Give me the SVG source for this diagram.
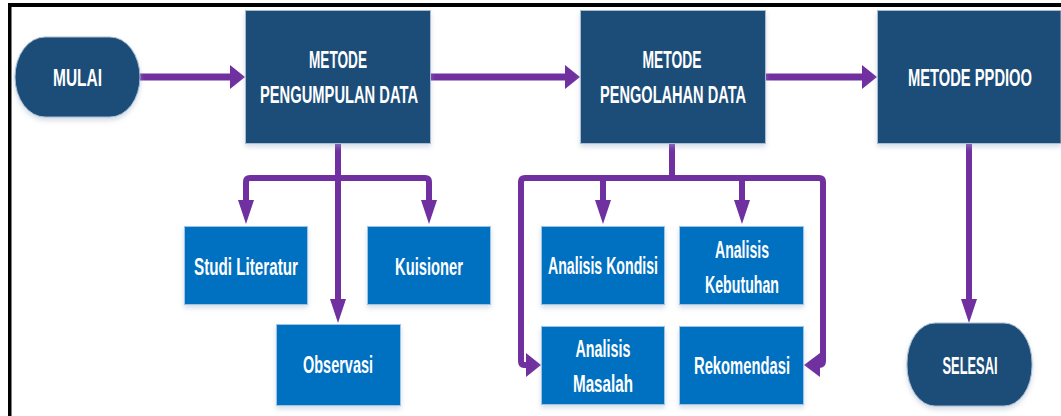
<svg xmlns="http://www.w3.org/2000/svg" width="1061" height="416" viewBox="0 0 1061 416">
  <defs>
    <filter id="soft" x="-10%" y="-10%" width="120%" height="130%">
      <feDropShadow dx="0" dy="3" stdDeviation="2.5" flood-color="#9FB3C8" flood-opacity="0.45"/>
    </filter>
    <!-- arrowheads, tip at origin -->
    <path id="headDown" d="M-8,-24 L8,-24 L0,0 Z"/>
    <path id="headRight" d="M-15,-12 L0,0 L-15,12 Z"/>
    <path id="headLeft" d="M16,-12 L0,0 L16,12 Z"/>
  </defs>
  <style>
    .dark { fill: #1F4E79; stroke: #A9BCD1; stroke-width: 1; filter: url(#soft); }
    .light { fill: #0070C0; stroke: #9DC3E6; stroke-width: 1; filter: url(#soft); }
    .lbl { fill: #FFFFFF; font-family: "Liberation Sans Narrow", "Liberation Sans", Arial, sans-serif; font-weight: bold; font-size: 24px; text-anchor: middle; }
    .wire { fill: none; stroke: #7030A0; stroke-linecap: round; stroke-linejoin: round; }
    .main { stroke-width: 7; }
    .branch { stroke-width: 6; }
    .head { fill: #7030A0; }
  </style>

  <rect width="1061" height="416" fill="#FFFFFF"/>

  <!-- frame -->
  <rect x="8" y="3" width="1053" height="4" fill="#000000"/>
  <rect x="8" y="3" width="3.5" height="413" fill="#000000"/>

  <!-- connectors -->
  <g id="connectors">
    <path class="wire main" d="M140,77 H232"/>
    <use href="#headRight" class="head" x="245" y="77"/>
    <path class="wire main" d="M431,77 H566"/>
    <use href="#headRight" class="head" x="580" y="77"/>
    <path class="wire main" d="M766,77 H863"/>
    <use href="#headRight" class="head" x="877" y="77"/>

    <path class="wire branch" d="M338,144 V300"/>
    <use href="#headDown" class="head" x="338" y="323"/>
    <path class="wire branch" d="M246,201 V182 Q246,178 250,178 H425 Q429,178 429,182 V201"/>
    <use href="#headDown" class="head" x="246" y="224"/>
    <use href="#headDown" class="head" x="429" y="224"/>

    <path class="wire branch" d="M672,144 V178"/>
    <path class="wire branch" d="M526,365 H524 Q521,365 521,361 V182 Q521,178 525,178 H819 Q823,178 823,182 V361 Q823,365 819,365 H819"/>
    <path class="wire branch" d="M603,178 V201"/>
    <path class="wire branch" d="M742,178 V201"/>
    <use href="#headDown" class="head" x="603" y="224"/>
    <use href="#headDown" class="head" x="742" y="224"/>
    <use href="#headRight" class="head" x="541" y="365"/>
    <use href="#headLeft" class="head" x="804" y="365"/>

    <path class="wire branch" d="M969,144 V300"/>
    <use href="#headDown" class="head" x="969" y="323"/>
  </g>

  <!-- main flow -->
  <g id="mulai">
    <rect class="dark" x="15" y="37" width="125" height="80" rx="30" ry="40"/>
    <text class="lbl" x="77.5" y="86" textLength="49" lengthAdjust="spacingAndGlyphs">MULAI</text>
  </g>
  <g id="pengumpulan">
    <rect class="dark" x="245.5" y="10.5" width="185" height="133"/>
    <text class="lbl" x="338" y="68" textLength="58" lengthAdjust="spacingAndGlyphs">METODE</text>
    <text class="lbl" x="339" y="103" textLength="158" lengthAdjust="spacingAndGlyphs">PENGUMPULAN DATA</text>
  </g>
  <g id="pengolahan">
    <rect class="dark" x="580.5" y="10.5" width="185" height="133"/>
    <text class="lbl" x="672" y="68" textLength="59" lengthAdjust="spacingAndGlyphs">METODE</text>
    <text class="lbl" x="673" y="103" textLength="146" lengthAdjust="spacingAndGlyphs">PENGOLAHAN DATA</text>
  </g>
  <g id="ppdioo">
    <rect class="dark" x="877.5" y="10.5" width="183.5" height="133"/>
    <text class="lbl" x="970" y="86" textLength="124" lengthAdjust="spacingAndGlyphs">METODE PPDIOO</text>
  </g>
  <g id="selesai">
    <rect class="dark" x="907" y="323" width="125" height="83" rx="28" ry="40"/>
    <text class="lbl" x="970" y="374" textLength="55" lengthAdjust="spacingAndGlyphs">SELESAI</text>
  </g>

  <!-- data collection steps -->
  <g id="studi-literatur">
    <rect class="light" x="184.5" y="226.5" width="123" height="78"/>
    <text class="lbl" x="246" y="275" textLength="104" lengthAdjust="spacingAndGlyphs">Studi Literatur</text>
  </g>
  <g id="kuisioner">
    <rect class="light" x="367.5" y="226.5" width="123" height="78"/>
    <text class="lbl" x="429" y="275" textLength="68" lengthAdjust="spacingAndGlyphs">Kuisioner</text>
  </g>
  <g id="observasi">
    <rect class="light" x="276.5" y="324.5" width="124" height="81"/>
    <text class="lbl" x="338" y="373" textLength="70" lengthAdjust="spacingAndGlyphs">Observasi</text>
  </g>

  <!-- data processing steps -->
  <g id="analisis-kondisi">
    <rect class="light" x="541.5" y="226.5" width="123" height="78"/>
    <text class="lbl" x="603" y="274" textLength="110" lengthAdjust="spacingAndGlyphs">Analisis Kondisi</text>
  </g>
  <g id="analisis-kebutuhan">
    <rect class="light" x="679.5" y="226.5" width="124" height="78"/>
    <text class="lbl" x="742" y="258" textLength="54" lengthAdjust="spacingAndGlyphs">Analisis</text>
    <text class="lbl" x="742" y="293" textLength="74" lengthAdjust="spacingAndGlyphs">Kebutuhan</text>
  </g>
  <g id="analisis-masalah">
    <rect class="light" x="541.5" y="326.5" width="123" height="78"/>
    <text class="lbl" x="603" y="357" textLength="55" lengthAdjust="spacingAndGlyphs">Analisis</text>
    <text class="lbl" x="603" y="392" textLength="60" lengthAdjust="spacingAndGlyphs">Masalah</text>
  </g>
  <g id="rekomendasi">
    <rect class="light" x="679.5" y="326.5" width="124" height="78"/>
    <text class="lbl" x="742" y="374" textLength="96" lengthAdjust="spacingAndGlyphs">Rekomendasi</text>
  </g>
</svg>
